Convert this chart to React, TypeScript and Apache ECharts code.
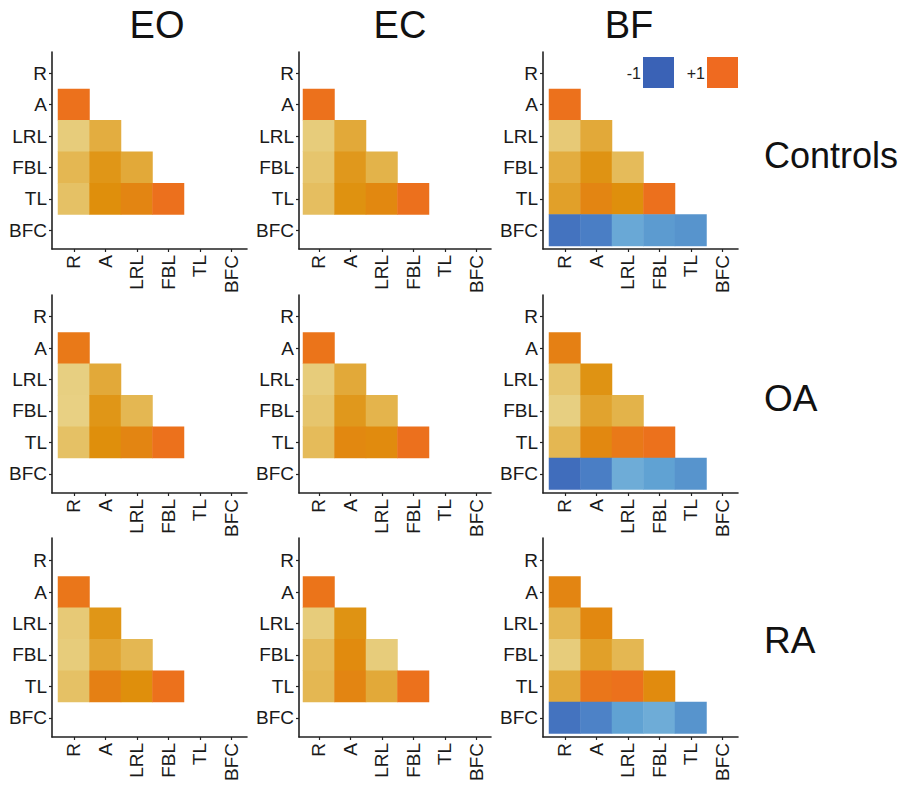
import React, { useEffect, useRef } from "react";
import * as echarts from "echarts";

const variables = ["R", "A", "LRL", "FBL", "TL", "BFC"];
const conditions = ["EO", "EC", "BF"];
const groups = ["Controls", "OA", "RA"];

// Lower-triangle correlations; row i holds correlations of variables[i] with variables[0..i-1]
const eoControls = [[0.95], [0.3, 0.52], [0.45, 0.7, 0.55], [0.38, 0.75, 0.82, 0.96]];
const ecControls = [[0.95], [0.3, 0.55], [0.35, 0.68, 0.48], [0.4, 0.73, 0.8, 0.96]];
const bfControls = [[0.95], [0.32, 0.55], [0.52, 0.72, 0.42], [0.62, 0.82, 0.75, 0.96], [-0.85, -0.75, -0.45, -0.55, -0.6]];
const eoOA = [[0.9], [0.28, 0.55], [0.27, 0.7, 0.45], [0.38, 0.75, 0.82, 0.95]];
const ecOA = [[0.93], [0.3, 0.55], [0.35, 0.68, 0.47], [0.42, 0.8, 0.78, 0.96]];
const bfOA = [[0.85], [0.35, 0.72], [0.28, 0.6, 0.48], [0.45, 0.8, 0.9, 0.95], [-0.9, -0.75, -0.42, -0.5, -0.6]];
const eoRA = [[0.92], [0.32, 0.7], [0.3, 0.58, 0.45], [0.38, 0.85, 0.75, 0.95]];
const ecRA = [[0.93], [0.3, 0.72], [0.42, 0.78, 0.3], [0.45, 0.82, 0.55, 0.95]];
const bfRA = [[0.82], [0.45, 0.8], [0.3, 0.62, 0.45], [0.55, 0.92, 0.95, 0.78], [-0.85, -0.72, -0.5, -0.42, -0.6]];

const panels = [
  [eoControls, ecControls, bfControls],
  [eoOA, ecOA, bfOA],
  [eoRA, ecRA, bfRA],
];

const legendLabels = ["-1", "+1"];

// layout
const gridLeft = [58, 303, 549];
const gridWidth = 189;
const axisX = [52, 299, 543];
const gridTop = [57.5, 301, 545];
const gridHeight = 188.5;
const axisY = [249, 493, 737];
const axisTop = [52, 295, 538];
const axisRight = [247, 491, 738];

const colorStops = [
  "#3a62b6", "#4a7ec5", "#60a2d3", "#8cc2e0", "#f0ead0",
  "#e8d389", "#e3b044", "#df8f0c", "#ef6a20",
];

const FONT = "Liberation Sans, Arial, sans-serif";
const AXIS_COLOR = "#222";

export default function App() {
  const ref = useRef<HTMLDivElement>(null);
  useEffect(() => {
    if (!ref.current) return;
    const chart = echarts.init(ref.current, null, { renderer: "svg" });
    const grid: any[] = [];
    const xAxis: any[] = [];
    const yAxis: any[] = [];
    const series: any[] = [];
    let gi = 0;
    for (let r = 0; r < 3; r++) {
      for (let c = 0; c < 3; c++) {
        grid.push({
          left: gridLeft[c], top: gridTop[r], width: gridWidth, height: gridHeight,
          containLabel: false, outerBoundsMode: "none",
        });
        xAxis.push({
          type: "category", gridIndex: gi, data: variables,
          offset: axisY[r] - (gridTop[r] + gridHeight),
          axisLine: { show: false },
          axisTick: { show: true, alignWithLabel: true, length: 3, lineStyle: { color: AXIS_COLOR, width: 1.2 } },
          axisLabel: { rotate: 90, margin: 6, color: "#1a1a1a", fontSize: 19, fontFamily: FONT, interval: 0 },
          splitLine: { show: false },
        });
        yAxis.push({
          type: "category", gridIndex: gi, data: variables, inverse: true,
          offset: gridLeft[c] - axisX[c],
          axisLine: { show: false },
          axisTick: { show: true, alignWithLabel: true, length: 3, lineStyle: { color: AXIS_COLOR, width: 1.2 } },
          axisLabel: { margin: 5, color: "#1a1a1a", fontSize: 19, fontFamily: FONT, interval: 0 },
          splitLine: { show: false },
        });
        const mat = panels[r][c];
        const data: any[] = [];
        mat.forEach((row, i) => {
          row.forEach((v, j) => {
            data.push([j, i + 1, v]);
          });
        });
        series.push({
          type: "heatmap", xAxisIndex: gi, yAxisIndex: gi, data,
          itemStyle: { borderWidth: 0 },
          emphasis: { disabled: true },
        });
        gi++;
      }
    }
    const mainCount = gi;
    for (let r = 0; r < 3; r++) {
      for (let c = 0; c < 3; c++) {
        grid.push({
          left: axisX[c], top: axisTop[r], width: axisRight[c] - axisX[c], height: axisY[r] - axisTop[r],
          containLabel: false, outerBoundsMode: "none",
        });
        xAxis.push({
          type: "value", gridIndex: gi, min: 0, max: 1,
          axisLine: { show: true, onZero: false, lineStyle: { color: AXIS_COLOR, width: 1.6 } },
          axisTick: { show: false }, axisLabel: { show: false }, splitLine: { show: false },
        });
        yAxis.push({
          type: "value", gridIndex: gi, min: 0, max: 1,
          axisLine: { show: true, onZero: false, lineStyle: { color: AXIS_COLOR, width: 1.6 } },
          axisTick: { show: false }, axisLabel: { show: false }, splitLine: { show: false },
        });
        gi++;
      }
    }

    const titleX = [157, 400, 629];
    const rowLabelY = [155, 398, 640];
    const rowFont = [36, 37, 37];
    const graphic: any[] = [];
    conditions.forEach((t, i) => {
      graphic.push({
        type: "text", x: titleX[i], y: 25,
        style: { text: t, font: `38px ${FONT}`, fill: "#111", align: "center", verticalAlign: "middle" },
      });
    });
    groups.forEach((t, i) => {
      graphic.push({
        type: "text", x: 764, y: rowLabelY[i],
        style: { text: t, font: `${rowFont[i]}px ${FONT}`, fill: "#111", align: "left", verticalAlign: "middle" },
      });
    });
    const legendColors = [colorStops[0], colorStops[colorStops.length - 1]];
    const legendSqX = [643, 707];
    legendLabels.forEach((t, i) => {
      graphic.push({
        type: "text", x: legendSqX[i] - 2, y: 73,
        style: { text: t, font: `16px ${FONT}`, fill: "#222", align: "right", verticalAlign: "middle" },
      });
      graphic.push({
        type: "rect", shape: { x: legendSqX[i], y: 57, width: 31, height: 31 },
        style: { fill: legendColors[i] },
      });
    });

    chart.setOption({
      animation: false,
      grid, xAxis, yAxis, series, graphic,
      visualMap: {
        type: "continuous", show: false, min: -1, max: 1,
        seriesIndex: Array.from({ length: mainCount }, (_, i) => i),
        inRange: { color: colorStops },
      },
    });
    return () => chart.dispose();
  }, []);
  return (
    <div
      ref={ref}
      style={{ position: "fixed", left: 0, top: 0, width: 902, height: 785, background: "#fff" }}
    />
  );
}
